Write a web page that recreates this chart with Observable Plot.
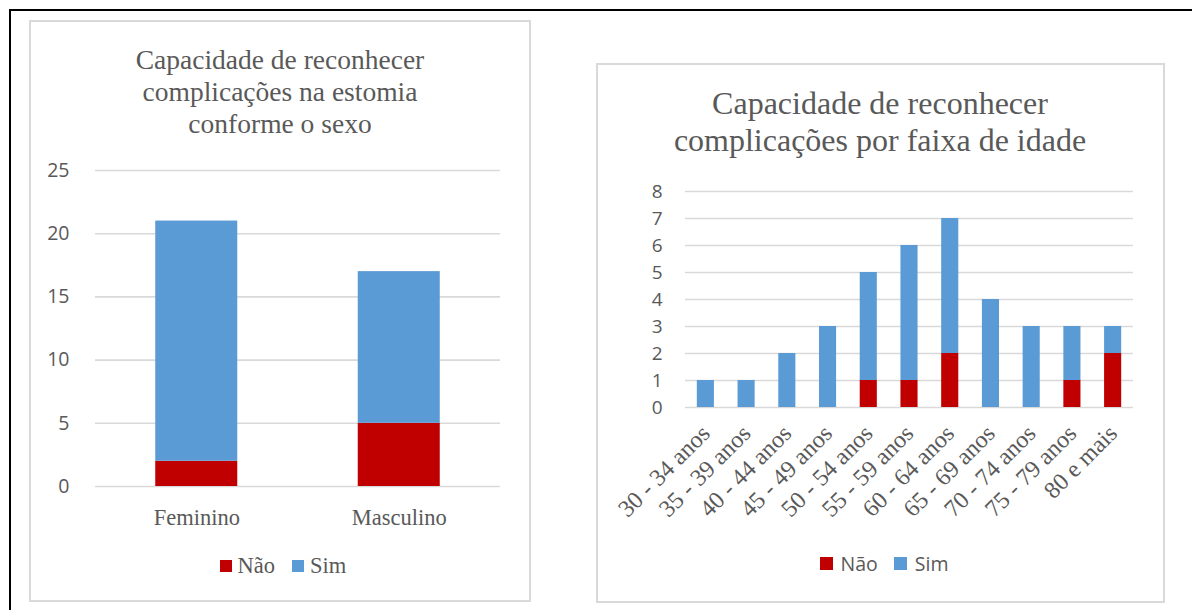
<!DOCTYPE html>
<html>
<head>
<meta charset="utf-8">
<script src="https://cdn.jsdelivr.net/npm/d3@7"></script>
<script src="https://cdn.jsdelivr.net/npm/@observablehq/plot@0.6"></script>
<style>
  html, body { margin: 0; padding: 0; background: #fff; width: 1192px; height: 610px; overflow: hidden; }
  .abs { position: absolute; }
  .outer { left: 9px; top: 9px; width: 1300px; height: 700px; border-top: 2px solid #000; border-left: 2px solid #000; }
  .panel { border: 2px solid #d9d9d9; box-sizing: border-box; background: #fff; }
  .title { font-family: "Liberation Serif", serif; color: #595959; text-align: center; }
  .legend { display: flex; align-items: center; justify-content: center; color: #595959; }
  .legend .sw { display: inline-block; }
</style>
</head>
<body>
<div class="abs outer"></div>
<div class="abs panel" style="left:29px; top:20px; width:502px; height:582px;"></div>
<div class="abs panel" style="left:596px; top:63px; width:569px; height:540px;"></div>

<div id="t1" class="abs title" style="left:30px; top:44px; width:500px; font-size:27.5px; line-height:32px;"></div>
<div id="t2" class="abs title" style="left:597px; top:85px; width:566px; font-size:32px; line-height:37px;"></div>

<div id="chart1" class="abs" style="left:30px; top:150px;"></div>
<div id="chart2" class="abs" style="left:597px; top:175px;"></div>

<div id="leg1" class="abs legend" style="left:30px; top:552px; width:506px; height:28px; font-family:'Liberation Serif', serif; font-size:22.5px;"></div>
<div id="leg2" class="abs legend" style="left:597px; top:549px; width:574px; height:28px; font-family:'Open Sans', sans-serif; font-size:19.5px;"></div>

<script>
// ---- Data ----
const title1Lines = ["Capacidade de reconhecer", "complicações na estomia", "conforme o sexo"];
const title2Lines = ["Capacidade de reconhecer", "complicações por faixa de idade"];
const seriesNames = ["Não", "Sim"];
const seriesColors = ["#C00000", "#5B9BD5"];

const sexCategories = ["Feminino", "Masculino"];
const sexNao = [2, 5];
const sexSim = [19, 12];
const sexTicks = [0, 5, 10, 15, 20, 25];

const ageCategories = ["30 - 34 anos", "35 - 39 anos", "40 - 44 anos", "45 - 49 anos", "50 - 54 anos",
  "55 - 59 anos", "60 - 64 anos", "65 - 69 anos", "70 - 74 anos", "75 - 79 anos", "80 e mais"];
const ageNao = [0, 0, 0, 0, 1, 1, 2, 0, 0, 1, 2];
const ageSim = [1, 1, 2, 3, 4, 5, 5, 4, 3, 2, 1];
const ageTicks = [0, 1, 2, 3, 4, 5, 6, 7, 8];

// ---- Build tables ----
function longTable(cats, nao, sim) {
  const rows = [];
  cats.forEach((c, i) => {
    rows.push({cat: c, serie: seriesNames[0], value: nao[i]});
    rows.push({cat: c, serie: seriesNames[1], value: sim[i]});
  });
  return rows;
}
const sexData = longTable(sexCategories, sexNao, sexSim);
const ageData = longTable(ageCategories, ageNao, ageSim);

document.getElementById("t1").innerHTML = title1Lines.join("<br>");
document.getElementById("t2").innerHTML = title2Lines.join("<br>");

const gridStyle = {stroke: "#d9d9d9", strokeOpacity: 1, strokeWidth: 1.6};

// ---- Chart 1 ----
const chart1 = Plot.plot({
  width: 500,
  height: 380,
  marginLeft: 65,
  marginRight: 30,
  marginTop: 20,
  marginBottom: 44,
  style: {background: "transparent", color: "#595959", overflow: "visible"},
  x: {domain: sexCategories, paddingInner: 0.595, paddingOuter: 0.2975, round: false, axis: null},
  y: {domain: [0, 25], axis: null},
  color: {domain: seriesNames, range: seriesColors},
  marks: [
    Plot.gridY(sexTicks, gridStyle),
    Plot.barY(sexData, {x: "cat", y: "value", fill: "serie"}),
    Plot.axisY(sexTicks, {tickSize: 0, tickPadding: 26, fontFamily: "Open Sans", fontSize: 19.5, fill: "#595959", label: null}),
    Plot.axisX({tickSize: 0, tickPadding: 23, fontFamily: "Liberation Serif", fontSize: 22.5, fill: "#595959", label: null})
  ]
});
document.getElementById("chart1").appendChild(chart1);

// ---- Chart 2 ----
const chart2 = Plot.plot({
  width: 566,
  height: 360,
  marginLeft: 88,
  marginRight: 30,
  marginTop: 16,
  marginBottom: 128,
  style: {background: "transparent", color: "#595959", overflow: "visible"},
  x: {domain: ageCategories, paddingInner: 0.58, paddingOuter: 0.29, round: false, axis: null},
  y: {domain: [0, 8], axis: null},
  color: {domain: seriesNames, range: seriesColors},
  marks: [
    Plot.gridY(ageTicks, gridStyle),
    Plot.barY(ageData, {x: "cat", y: "value", fill: "serie"}),
    Plot.axisY(ageTicks, {tickSize: 0, tickPadding: 23, fontFamily: "Open Sans", fontSize: 19, fill: "#595959", label: null}),
    Plot.axisX({tickSize: 0, tickPadding: 22, tickRotate: -45, fontFamily: "Liberation Serif", fontSize: 24, fill: "#595959", label: null})
  ]
});
document.getElementById("chart2").appendChild(chart2);

// ---- Legends ----
function buildLegend(id, sw, gapText, gapItem) {
  const el = document.getElementById(id);
  seriesNames.forEach((name, i) => {
    const s = document.createElement("span");
    s.className = "sw";
    s.style.width = sw + "px";
    s.style.height = sw + "px";
    s.style.background = seriesColors[i];
    s.style.marginRight = gapText + "px";
    if (i > 0) s.style.marginLeft = gapItem + "px";
    const t = document.createElement("span");
    t.textContent = name;
    el.appendChild(s);
    el.appendChild(t);
  });
}
buildLegend("leg1", 12, 6, 17);
buildLegend("leg2", 13, 8, 16);
</script>
</body>
</html>
